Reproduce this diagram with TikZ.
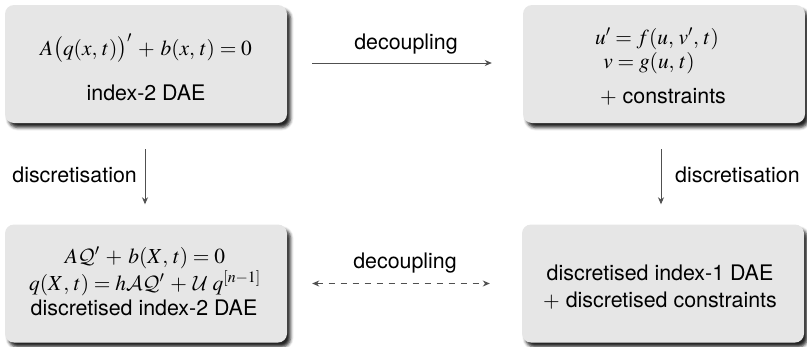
\documentclass[tikz,border=0pt]{standalone}
\usepackage{mathptmx}
\usepackage[no-math]{fontspec}
\setmainfont{TeX Gyre Heros}
\DeclareMathAlphabet{\mathcal}{OMS}{cmsy}{m}{n}
\usetikzlibrary{shadows.blur,arrows.meta}
\definecolor{boxgray}{HTML}{E6E6E6}
\definecolor{arrowgray}{HTML}{505050}
\newcommand\mywidermu{\thinmuskip=4mu\relax\medmuskip=5mu plus 2mu minus 4mu\relax}
\begin{document}
\begin{tikzpicture}[x=1pt,y=-1pt,
  box/.style={rounded corners=9pt, fill=boxgray, inner sep=0pt,
    minimum width=282pt, minimum height=118pt,
    blur shadow={shadow xshift=3.5pt, shadow yshift=-4.5pt,
      shadow blur radius=3pt, shadow opacity=85}},
  txt/.style={anchor=base, inner sep=0pt,
    font=\fontsize{21.4}{25}\selectfont\mywidermu},
  conn/.style={draw=arrowgray, line width=0.9pt, -{Stealth[length=7pt,width=6pt]}},
  dconn/.style={draw=arrowgray, line width=0.9pt, dash pattern=on 6pt off 6pt,
    {Stealth[length=7pt,width=6pt]}-{Stealth[length=7pt,width=6pt]}},
]
\useasboundingbox (0,0) rectangle (807,346);
% boxes
\node[box] (tl) at (146,64) {};
\node[box] (tr) at (664,64) {};
\node[box] (bl) at (146,283.5) {};
\node[box] (br) at (663,283.5) {};
% texts in boxes
\node[txt] (tl1) at (146,55) {$A\bigl(q(x,t)\bigr)' + b(x,t) = 0$};
\node[txt] (tl2) at (146,100) {index-2 DAE};
\node[txt] (tr1) at (657,44) {$u' = f(u,v',t)$};
\node[txt] (tr2) at (649,68) {$v = g(u,t)$};
\node[txt] (tr3) at (663,103) {$+$ constraints};
\node[txt] (bl1) at (145,263) {$A\mathcal{Q}' + b(X,t) = 0$};
\node[txt] (bl2) at (145,290) {$q(X,t) = h\mathcal{A}\mathcal{Q}' + \mathcal{U}\,q^{[n-1]}$};
\node[txt] (bl3) at (144,315) {discretised index-2 DAE};
\node[txt] (br1) at (660,280) {discretised index-1 DAE};
\node[txt] (br2) at (660,307) {$+$ discretised constraints};
% connector labels
\node[txt] (d1) at (406,49) {decoupling};
\node[txt] (d2) at (405,268) {decoupling};
\node[txt, anchor=base east] (s1) at (137,182) {discretisation};
\node[txt, anchor=base west] (s2) at (675,182) {discretisation};
% connectors
\draw[conn, shorten <=25pt, shorten >=31pt] ([yshift=1pt]tl.east) -- ([yshift=1pt]tr.west);
\draw[conn, shorten <=26pt, shorten >=20pt] ([xshift=-1pt]tl.south) -- ([xshift=-1pt]bl.north);
\draw[conn, shorten <=26pt, shorten >=20pt] ([xshift=-3pt]tr.south) -- ([xshift=-2pt]br.north);
\draw[dconn, shorten <=25pt, shorten >=32pt] (bl.east) -- (br.west);
\end{tikzpicture}
\end{document}
